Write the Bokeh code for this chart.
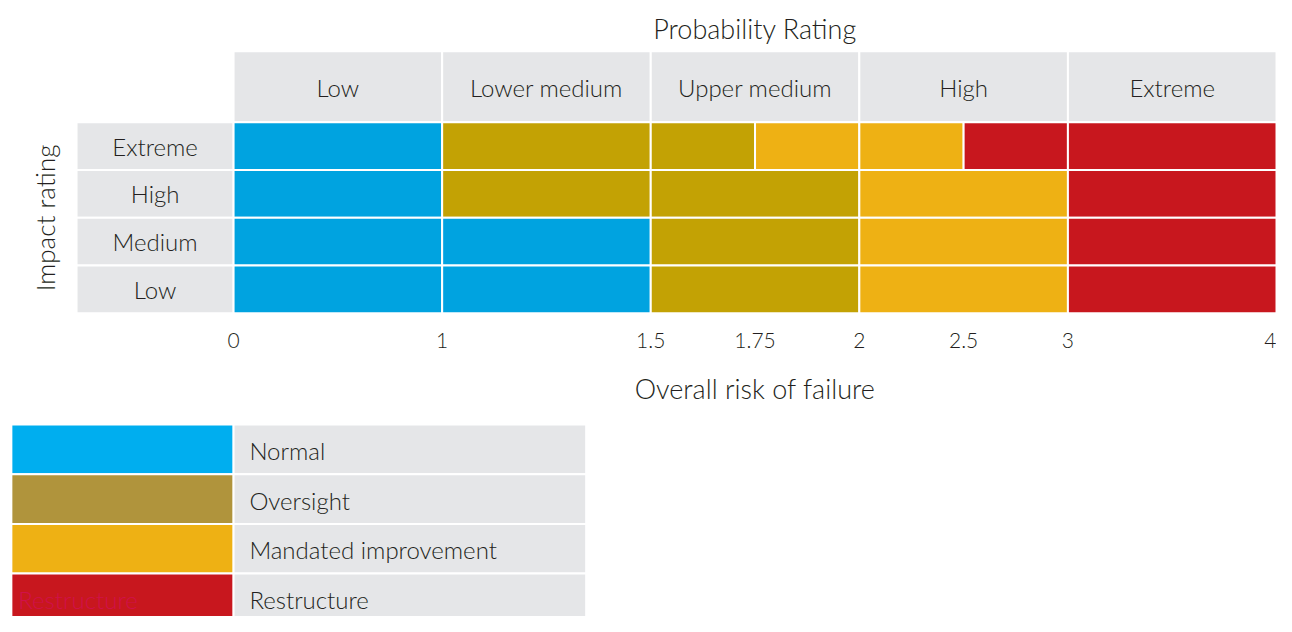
import numpy as np
from bokeh.plotting import figure
from bokeh.models import Range1d, ColumnDataSource
from bokeh.core.properties import value
from bokeh.embed import file_html
from bokeh.resources import INLINE

# ---------------- data ----------------
prob_columns = ["Low", "Lower medium", "Upper medium", "High", "Extreme"]
col_edges_risk = [0, 1, 1.5, 2, 3, 4]
tick_values = [0, 1, 1.5, 1.75, 2, 2.5, 3, 4]
tick_labels = ["0", "1", "1.5", "1.75", "2", "2.5", "3", "4"]
impact_rows = ["Extreme", "High", "Medium", "Low"]

# cell bands (risk values) and risk level per band, per impact row
extreme_bands = [0, 1, 1.5, 1.75, 2, 2.5, 3, 4]
extreme_levels = ["Normal", "Oversight", "Oversight", "Mandated improvement",
                  "Mandated improvement", "Restructure", "Restructure"]
high_bands = [0, 1, 1.5, 2, 3, 4]
high_levels = ["Normal", "Oversight", "Oversight", "Mandated improvement", "Restructure"]
medium_bands = [0, 1, 1.5, 2, 3, 4]
medium_levels = ["Normal", "Normal", "Oversight", "Mandated improvement", "Restructure"]
low_bands = [0, 1, 1.5, 2, 3, 4]
low_levels = ["Normal", "Normal", "Oversight", "Mandated improvement", "Restructure"]

legend_levels = ["Normal", "Oversight", "Mandated improvement", "Restructure"]

# ---------------- styles ----------------
FONT = value("Lato Light")
TXT = "#231f20"
GRAY = "#e5e6e8"
cell_colors = {"Normal": "#00a3e0", "Oversight": "#c3a204",
               "Mandated improvement": "#eeb114", "Restructure": "#c8171e"}
legend_colors = {"Normal": "#00aeef", "Oversight": "#b0943c",
                 "Mandated improvement": "#eeb114", "Restructure": "#c8171e"}

# layout (pixel-like units)
X0, CW = 236.0, 211.2
HEAD_TOP, HEAD_BOT = 52, 125
ROW_TOP, ROW_H = 125, 49
ROWHEAD_L = 77
LEG_TOP, LEG_H = 435, 51
LEG_SW_L, LEG_SW_R, LEG_LAB_R = 11, 236, 593

col_px = X0 + CW * np.arange(len(col_edges_risk))


def rx(r):
    return np.interp(r, col_edges_risk, col_px)


p = figure(width=1276, height=616, output_backend="svg", toolbar_location=None,
           x_range=Range1d(0, 1292), y_range=Range1d(632, 0),
           min_border=0, min_border_left=0, min_border_right=0,
           min_border_top=0, min_border_bottom=0)
p.axis.visible = False
p.grid.visible = False
p.outline_line_color = None
p.background_fill_color = "white"
p.border_fill_color = "white"

# header row
hl = col_px[:-1]
hr = col_px[1:]
p.quad(left=hl, right=hr, top=[HEAD_TOP] * 5, bottom=[HEAD_BOT] * 5,
       fill_color=GRAY, line_color="white", line_width=2)
p.text(x=(hl + hr) / 2, y=[(HEAD_TOP + HEAD_BOT) / 2 + 1] * 5, text=prob_columns,
       text_font=FONT, text_font_size="24px", text_color=TXT,
       text_align="center", text_baseline="middle")

# row headers
rt = ROW_TOP + ROW_H * np.arange(4)
p.quad(left=[ROWHEAD_L] * 4, right=[X0] * 4, top=rt, bottom=rt + ROW_H,
       fill_color=GRAY, line_color="white", line_width=2)
p.text(x=[(ROWHEAD_L + X0) / 2] * 4, y=rt + ROW_H / 2, text=impact_rows,
       text_font=FONT, text_font_size="24px", text_color=TXT,
       text_align="center", text_baseline="middle")

# matrix cells
rows_data = [(extreme_bands, extreme_levels), (high_bands, high_levels),
             (medium_bands, medium_levels), (low_bands, low_levels)]
L, R, T, B, C = [], [], [], [], []
for i, (bands, levels) in enumerate(rows_data):
    for j, lev in enumerate(levels):
        L.append(rx(bands[j]))
        R.append(rx(bands[j + 1]))
        T.append(ROW_TOP + ROW_H * i)
        B.append(ROW_TOP + ROW_H * (i + 1))
        C.append(cell_colors[lev])
p.quad(source=ColumnDataSource(dict(left=L, right=R, top=T, bottom=B, color=C)),
       left="left", right="right", top="top", bottom="bottom",
       fill_color="color", line_color="white", line_width=2)

# tick labels
tx = rx(tick_values)
p.text(x=tx[:-1], y=[349] * (len(tx) - 1), text=tick_labels[:-1],
       text_font=FONT, text_font_size="21px", text_color=TXT,
       text_align="center", text_baseline="middle")
p.text(x=[tx[-1]], y=[349], text=[tick_labels[-1]],
       text_font=FONT, text_font_size="21px", text_color=TXT,
       text_align="right", text_baseline="middle")

# titles
mid = (col_px[0] + col_px[-1]) / 2
p.text(x=[mid], y=[29], text=["Probability Rating"], text_font=FONT,
       text_font_size="27px", text_color=TXT, text_align="center",
       text_baseline="middle")
p.text(x=[mid], y=[398], text=["Overall risk of failure"], text_font=FONT,
       text_font_size="27px", text_color=TXT, text_align="center",
       text_baseline="middle")
p.text(x=[45], y=[ROW_TOP + 2 * ROW_H], text=["Impact rating"], angle=np.pi / 2,
       text_font=FONT, text_font_size="26px", text_color=TXT,
       text_align="center", text_baseline="middle")

# legend
lt = LEG_TOP + LEG_H * np.arange(4)
p.quad(left=[LEG_SW_L] * 4, right=[LEG_SW_R] * 4, top=lt, bottom=lt + LEG_H,
       fill_color=[legend_colors[k] for k in legend_levels],
       line_color="white", line_width=2)
p.quad(left=[LEG_SW_R] * 4, right=[LEG_LAB_R] * 4, top=lt, bottom=lt + LEG_H,
       fill_color=GRAY, line_color="white", line_width=2)
p.text(x=[LEG_SW_R + 16] * 4, y=lt + LEG_H / 2 + 1, text=legend_levels,
       text_font=FONT, text_font_size="24px", text_color=TXT,
       text_align="left", text_baseline="middle")
p.text(x=[LEG_SW_L + 7], y=[lt[-1] + LEG_H / 2 + 1], text=["Restructure"],
       text_font=FONT, text_font_size="24px", text_color="#d0114a",
       text_align="left", text_baseline="middle")

open("out.html", "w").write(file_html(p, INLINE))
